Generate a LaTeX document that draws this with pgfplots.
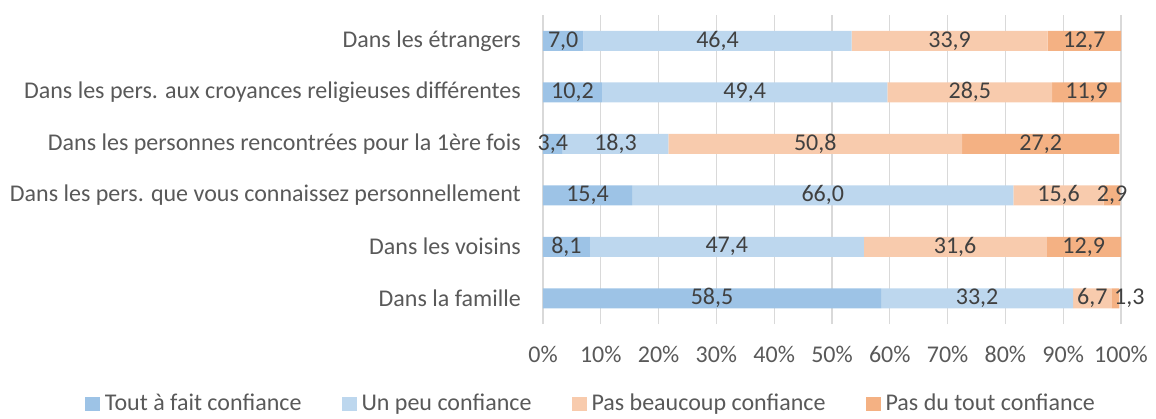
\documentclass[border=0pt]{standalone}
\usepackage{pgfplots}
\pgfplotsset{compat=1.18}
\usepackage{pgfplotstable}
\usepackage{fontspec}
\setmainfont{Carlito}
\definecolor{cA}{HTML}{9DC3E6}
\definecolor{cB}{HTML}{BDD7EE}
\definecolor{cC}{HTML}{F8CBAD}
\definecolor{cD}{HTML}{F4B183}
\definecolor{txt}{HTML}{595959}
\definecolor{lab}{HTML}{404040}
\definecolor{grd}{HTML}{D9D9D9}
% o = small offset of the last label, to keep it clear of its neighbour
\pgfplotstableread{
y a b c d o
0 58.5 33.2 6.7 1.3 2.4
1 8.1 47.4 31.6 12.9 0
2 15.4 66.0 15.6 2.9 0
3 3.4 18.3 50.8 27.2 0
4 10.2 49.4 28.5 11.9 0
5 7.0 46.4 33.9 12.7 0
}\data
\newcommand{\fs}{\fontsize{24}{28}\selectfont}
\pgfplotsset{base/.style={
  at={(0pt,0pt)}, anchor=south west, scale only axis,
  width=578pt, height=309pt,
  xmin=0, xmax=100, ymin=-0.5, ymax=5.5,
}}
\begin{document}
\fs
\begin{tikzpicture}
\useasboundingbox (-543pt,-94pt) rectangle (613pt,324pt);
\begin{axis}[base,
  xbar stacked, bar width=20pt,
  axis line style={draw=none},
  xmajorgrids, grid style={grd, line width=1.2pt},
  major tick style={draw=none},
  xtick={0,10,...,100},
  xticklabels={0\%,10\%,20\%,30\%,40\%,50\%,60\%,70\%,80\%,90\%,100\%},
  ytick={0,1,2,3,4,5},
  yticklabels={Dans la famille,Dans les voisins,Dans les pers. que vous connaissez personnellement,Dans les personnes rencontrées pour la 1ère fois,Dans les pers. aux croyances religieuses différentes,Dans les étrangers},
  ticklabel style={font=\fs, text=txt},
  yticklabel style={xshift=-14pt},
  xticklabel style={yshift=-14pt},
  legend style={at={(0.083,-0.258)}, anchor=center, draw=none, fill=none,
    font=\fs, text=txt, legend columns=4,
    /tikz/every even column/.append style={column sep=38pt},
    /tikz/every odd column/.append style={column sep=3pt}},
  legend image code/.code={\fill[#1] (0pt,-7pt) rectangle (15pt,7pt);},
]
\addplot[fill=cA, draw=none] table[x=a, y=y] {\data};
\addplot[fill=cB, draw=none] table[x=b, y=y] {\data};
\addplot[fill=cC, draw=none] table[x=c, y=y] {\data};
\addplot[fill=cD, draw=none] table[x=d, y=y] {\data};
\legend{Tout à fait confiance, Un peu confiance, Pas beaucoup confiance, Pas du tout confiance}
\end{axis}
\begin{axis}[base, hide axis, clip=false,
  nodes near coords={\pgfmathprintnumber[fixed,fixed zerofill,precision=1,use comma,assume math mode=true]{\pgfplotspointmeta}},
  nodes near coords align=center,
  every node near coord/.append style={font=\fs, text=lab, anchor=center, inner sep=0pt},
  point meta=explicit,
]
\addplot[only marks, mark=none] table[x expr=\thisrow{a}/2, y=y, meta=a] {\data};
\addplot[only marks, mark=none] table[x expr=\thisrow{a}+\thisrow{b}/2, y=y, meta=b] {\data};
\addplot[only marks, mark=none] table[x expr=\thisrow{a}+\thisrow{b}+\thisrow{c}/2, y=y, meta=c] {\data};
\addplot[only marks, mark=none] table[x expr=\thisrow{a}+\thisrow{b}+\thisrow{c}+\thisrow{d}/2+\thisrow{o}, y=y, meta=d] {\data};
\end{axis}
\end{tikzpicture}
\end{document}
